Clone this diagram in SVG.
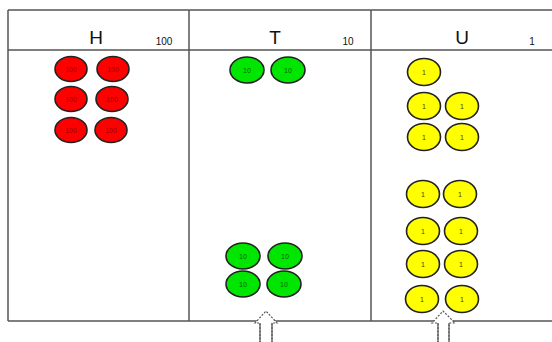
<svg xmlns="http://www.w3.org/2000/svg" width="552" height="342" viewBox="0 0 552 342">
<style>
.grid{stroke:#555;stroke-width:1.5;fill:none}
.hd{font-family:"Liberation Sans",Arial,sans-serif;font-size:19px;fill:#111;text-anchor:middle}
.hv{font-family:"Liberation Sans",Arial,sans-serif;font-size:10px;fill:#111;text-anchor:middle}
.c{stroke:#222;stroke-width:1.6}
.r{fill:#ff0000}
.g{fill:#00e600}
.y{fill:#ffff00}
.ct{font-family:"Liberation Sans",Arial,sans-serif;font-size:7px;text-anchor:middle}
.rt{fill:#a00000}
.gt{fill:#006600}
.yt{fill:#444400}
.arr{fill:#fff;stroke:#555;stroke-width:1.2}
</style>
<rect width="552" height="342" fill="#fff"/>
<g id="table" class="grid">
<path d="M8 10H552M8 50H552M8 321H552M8 10V321M189 10V321M371 10V321"/>
</g>
<g id="headers">
<text class="hd" x="96" y="44">H</text><text class="hv" x="164" y="45">100</text>
<text class="hd" x="275" y="44">T</text><text class="hv" x="348" y="45">10</text>
<text class="hd" x="462" y="44">U</text><text class="hv" x="532" y="45">1</text>
</g>
<g id="hundreds">
<ellipse class="c r" cx="71" cy="69" rx="16" ry="12.5"/><text class="ct rt" x="71" y="71.5">100</text>
<ellipse class="c r" cx="113" cy="69" rx="16" ry="12.5"/><text class="ct rt" x="113" y="71.5">100</text>
<ellipse class="c r" cx="71" cy="99" rx="16" ry="12.5"/><text class="ct rt" x="71" y="101.5">100</text>
<ellipse class="c r" cx="112" cy="99" rx="16" ry="12.5"/><text class="ct rt" x="112" y="101.5">100</text>
<ellipse class="c r" cx="71" cy="130" rx="16" ry="12.5"/><text class="ct rt" x="71" y="132.5">100</text>
<ellipse class="c r" cx="111" cy="130" rx="16" ry="12.5"/><text class="ct rt" x="111" y="132.5">100</text>
</g>
<g id="tens">
<ellipse class="c g" cx="247" cy="70" rx="17" ry="13"/><text class="ct gt" x="247" y="72.5">10</text>
<ellipse class="c g" cx="288" cy="70" rx="17" ry="13"/><text class="ct gt" x="288" y="72.5">10</text>
<ellipse class="c g" cx="243" cy="256" rx="17" ry="13"/><text class="ct gt" x="243" y="258.5">10</text>
<ellipse class="c g" cx="285" cy="256" rx="17" ry="13"/><text class="ct gt" x="285" y="258.5">10</text>
<ellipse class="c g" cx="243" cy="284" rx="17" ry="13"/><text class="ct gt" x="243" y="286.5">10</text>
<ellipse class="c g" cx="284" cy="284" rx="17" ry="13"/><text class="ct gt" x="284" y="286.5">10</text>
</g>
<g id="units">
<ellipse class="c y" cx="424" cy="72" rx="16.5" ry="13.5"/><text class="ct yt" x="424" y="74.5">1</text>
<ellipse class="c y" cx="424" cy="106" rx="16.5" ry="13.5"/><text class="ct yt" x="424" y="108.5">1</text>
<ellipse class="c y" cx="462" cy="106" rx="16.5" ry="13.5"/><text class="ct yt" x="462" y="108.5">1</text>
<ellipse class="c y" cx="424" cy="137" rx="16.5" ry="13.5"/><text class="ct yt" x="424" y="139.5">1</text>
<ellipse class="c y" cx="462" cy="137" rx="16.5" ry="13.5"/><text class="ct yt" x="462" y="139.5">1</text>
<ellipse class="c y" cx="423" cy="194" rx="16.5" ry="13.5"/><text class="ct yt" x="423" y="196.5">1</text>
<ellipse class="c y" cx="460" cy="194" rx="16.5" ry="13.5"/><text class="ct yt" x="460" y="196.5">1</text>
<ellipse class="c y" cx="423" cy="231" rx="16.5" ry="13.5"/><text class="ct yt" x="423" y="233.5">1</text>
<ellipse class="c y" cx="461" cy="231" rx="16.5" ry="13.5"/><text class="ct yt" x="461" y="233.5">1</text>
<ellipse class="c y" cx="423" cy="264" rx="16.5" ry="13.5"/><text class="ct yt" x="423" y="266.5">1</text>
<ellipse class="c y" cx="461" cy="264" rx="16.5" ry="13.5"/><text class="ct yt" x="461" y="266.5">1</text>
<ellipse class="c y" cx="422" cy="299" rx="16.5" ry="13.5"/><text class="ct yt" x="422" y="301.5">1</text>
<ellipse class="c y" cx="462" cy="299" rx="16.5" ry="13.5"/><text class="ct yt" x="462" y="301.5">1</text>
</g>
<g id="arrows">
<path class="arr" d="M260 343V323H255L266 311L277 323H272V343" stroke-dasharray="2 1.5"/>
<path class="arr" d="M260 343V323M272 323V343" fill="none"/>
<path class="arr" d="M438 343V323H432L443 311L455 323H449V343" stroke-dasharray="2 1.5"/>
<path class="arr" d="M438 343V323M449 323V343" fill="none"/>
</g>
</svg>
